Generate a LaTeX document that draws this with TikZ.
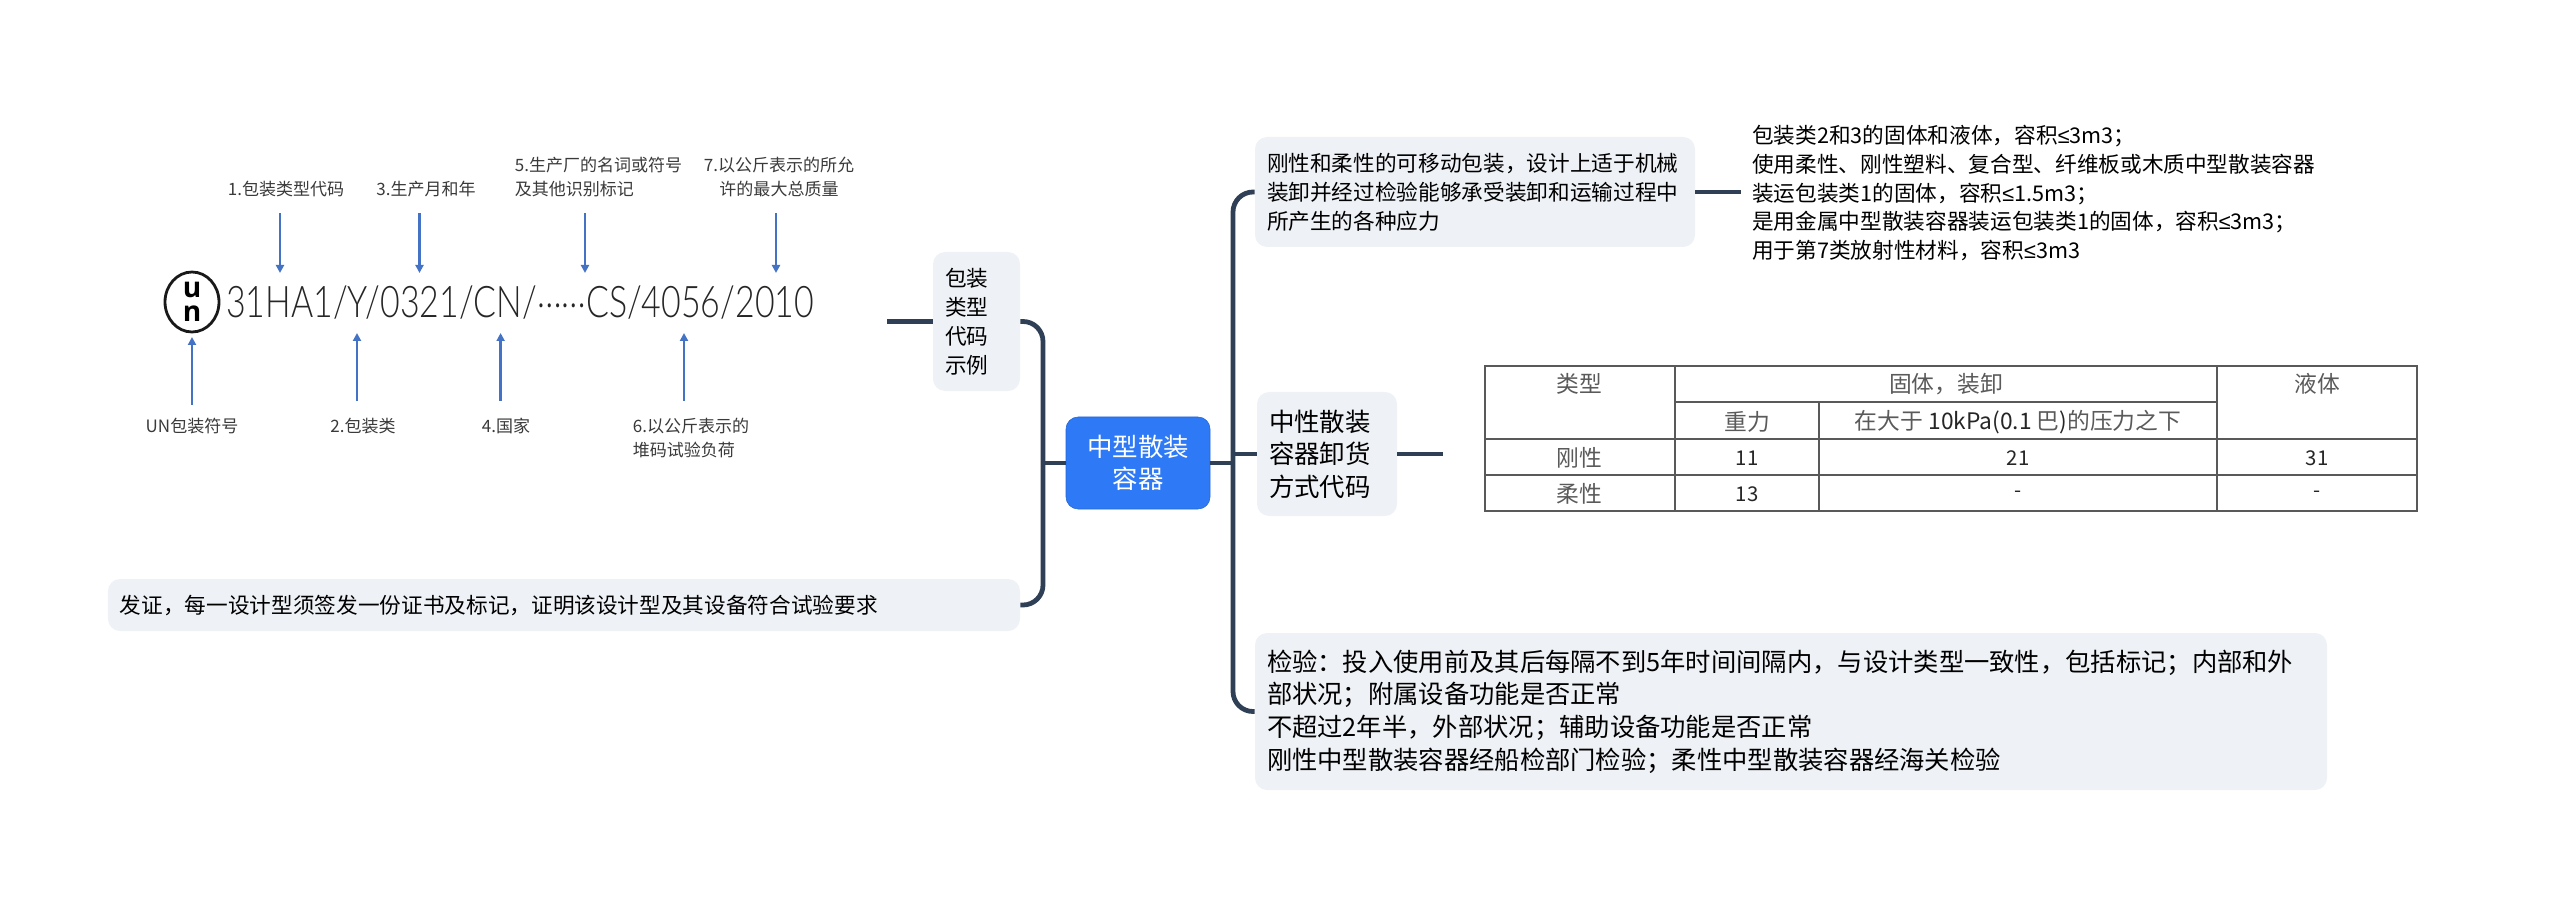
\documentclass[tikz,border=0pt]{standalone}
\usepackage{fontspec}
\setmainfont{Noto Sans CJK SC}
\newfontfamily\codefont{Lato}[UprightFont=* Light,FakeStretch=0.778]
\newfontfamily\unfont{Open Sans}
\newfontfamily\lefont{Liberation Sans}
\usetikzlibrary{positioning,arrows.meta,shapes.geometric}
\definecolor{branchcol}{HTML}{2F3F56}
\definecolor{boxcol}{HTML}{EEF1F5}
\definecolor{rootcol}{HTML}{2D79F6}
\definecolor{arrowcol}{HTML}{4472C4}
\definecolor{labelcol}{HTML}{3A3A3A}
\definecolor{cellcol}{HTML}{5A5A5A}
\newcommand{\lessmark}{{\lefont ≤}}
\tikzset{
  branch/.style={draw=branchcol,line width=3.4pt,rounded corners=5mm},
  stub/.style={draw=branchcol,line width=3.4pt},
  topicbox/.style={fill=boxcol,rounded corners=3mm,inner xsep=3mm,inner ysep=0pt,align=left},
  codearrow/.style={draw=arrowcol,line width=1.7pt,-{Triangle[length=2mm,width=2mm]}},
  codelabel/.style={text=labelcol,inner sep=0pt,font=\fontsize{12.1}{17.1}\selectfont},
  cell/.style={text=cellcol,inner sep=0pt,font=\fontsize{16.2}{20}\selectfont},
  numcell/.style={text=black!85,inner sep=0pt,font=\fontsize{14.5}{20}\selectfont},
  tableline/.style={draw=black!65,line width=0.8pt}
}
\begin{document}
\begin{tikzpicture}[x=0.25mm,y=-0.25mm]
  \useasboundingbox (0,0) rectangle (2560,898);
  % centre and its branches
  \node[fill=rootcol,draw=rootcol!85!black,rounded corners=3mm,text=white,minimum width=36mm,minimum height=23mm,inner sep=0pt,align=center,font=\fontsize{18.1}{23.2}\selectfont] (root) at (1138,463) {中型散装\\容器};
  \node[topicbox,text width=15.75mm,minimum height=34.75mm,font=\fontsize{15.4}{20.6}\selectfont] (sample) at (976.5,321.5) {包装\\类型\\代码\\示例};
  \node[topicbox,text width=222mm,minimum height=13mm,font=\fontsize{15.4}{20.6}\selectfont] (issue) at (564,605) {发证，每一设计型须签发一份证书及标记，证明该设计型及其设备符合试验要求};
  \node[topicbox,text width=104mm,minimum height=27.5mm,font=\fontsize{15.4}{20.6}\selectfont] (rigid) at (1475,192) {刚性和柔性的可移动包装，设计上适于机械\\装卸并经过检验能够承受装卸和运输过程中\\所产生的各种应力};
  \node[topicbox,text width=29mm,minimum height=31mm,font=\fontsize{18.1}{23.2}\selectfont] (neutral) at (1327,454) {中性散装\\容器卸货\\方式代码};
  \node[topicbox,text width=262mm,minimum height=39.25mm,font=\fontsize{18}{23.2}\selectfont] (check) at (1791,711.5) {检验：投入使用前及其后每隔不到5年时间间隔内，与设计类型一致性，包括标记；内部和外\\部状况；附属设备功能是否正常\\不超过2年半，外部状况；辅助设备功能是否正常\\刚性中型散装容器经船检部门检验；柔性中型散装容器经海关检验};
  \node[anchor=west,inner xsep=2.75mm,inner ysep=0pt,align=left,font=\fontsize{15.4}{20.6}\selectfont] (rigidlist) at (1741,193) {包装类2和3的固体和液体，容积\lessmark3m3；\\使用柔性、刚性塑料、复合型、纤维板或木质中型散装容器\\装运包装类1的固体，容积\lessmark1.5m3；\\是用金属中型散装容器装运包装类1的固体，容积\lessmark3m3；\\用于第7类放射性材料，容积\lessmark3m3};
  \coordinate (lspine) at (1043,463);
  \coordinate (rspine) at (1233,463);
  \coordinate (samplegap) at (887,321.5);
  \coordinate (tablegap) at (1443,454);
  \draw[branch] (sample.east) -| (lspine) |- (issue.east);
  \draw[branch] (rigid.west) -| (rspine) |- (check.west);
  \draw[stub] (root.west) -- (lspine);
  \draw[stub] (root.east) -- (rspine);
  \draw[stub] (rspine |- neutral.west) -- (neutral.west);
  \draw[stub] (rigid.east) -- (rigidlist.west |- rigid.east);
  \draw[stub] (neutral.east) -- (tablegap);
  \draw[stub] (sample.west) -- (samplegap);
  % marking code
  \node[draw=black!90,line width=2pt,ellipse,minimum width=13.5mm,minimum height=15mm,inner sep=0pt,align=center,font=\unfont\bfseries\fontsize{20}{17}\selectfont] (unmark) at (192,302) {u\\n};
  \node[anchor=west,inner sep=0pt,text=black!85,font=\codefont\fontsize{31}{34}\selectfont] (code) at (226,303) {31HA1/Y/0321/CN/\raisebox{0.25em}{……}CS/4056/2010};
  \foreach \name/\x in {one/280,three/419.5,five/585,seven/776} {
    \coordinate (\name s) at (\x,213);
    \coordinate (\name e) at (\x,273);
    \draw[codearrow] (\name s) -- (\name e);
  }
  \foreach \name/\x in {two/357,four/500.6,six/684} {
    \coordinate (\name s) at (\x,401);
    \coordinate (\name e) at (\x,333);
    \draw[codearrow] (\name s) -- (\name e);
  }
  \coordinate (uns) at (192,405);
  \coordinate (une) at (192,337);
  \draw[codearrow] (uns) -- (une);
  \node[codelabel] (labone) at (286,189) {1.包装类型代码};
  \node[codelabel] (labthree) at (426,189) {3.生产月和年};
  \node[codelabel,align=left] (labfive) at (598.5,177) {5.生产厂的名词或符号\\及其他识别标记};
  \node[codelabel,align=center] (labseven) at (779,177) {7.以公斤表示的所允\\许的最大总质量};
  \node[codelabel] (labun) at (192,426) {UN包装符号};
  \node[codelabel] (labtwo) at (363,426) {2.包装类};
  \node[codelabel] (labfour) at (506,426) {4.国家};
  \node[codelabel,align=left] (labsix) at (691,438) {6.以公斤表示的\\堆码试验负荷};
  % table
  \draw[tableline] (1485,366) rectangle (2417,511);
  \draw[tableline] (1485,439) -- (2417,439);
  \draw[tableline] (1485,475) -- (2417,475);
  \draw[tableline] (1675,402) -- (2217,402);
  \draw[tableline] (1675,366) -- (1675,511);
  \draw[tableline] (1819,402) -- (1819,511);
  \draw[tableline] (2217,366) -- (2217,511);
  \node[cell] (typehead) at (1579,384) {类型};
  \node[cell] (solidhead) at (1946,384) {固体，装卸};
  \node[cell] (liquidhead) at (2317,384) {液体};
  \node[cell] (gravity) at (1747,422) {重力};
  \node[cell] (pressure) at (2018,422) {在大于 {\color{black!85}10kPa(0.1} 巴{\color{black!85})}的压力之下};
  \node[cell] (rigidrow) at (1579,458) {刚性};
  \node[numcell] (rigidone) at (1747,458) {11};
  \node[numcell] (rigidtwo) at (2018,458) {21};
  \node[numcell] (rigidthree) at (2317,458) {31};
  \node[cell] (flexrow) at (1579,494) {柔性};
  \node[numcell] (flexone) at (1747,494) {13};
  \node[numcell] (flextwo) at (2018,494) {-};
  \node[numcell] (flexthree) at (2317,494) {-};
\end{tikzpicture}
\end{document}
